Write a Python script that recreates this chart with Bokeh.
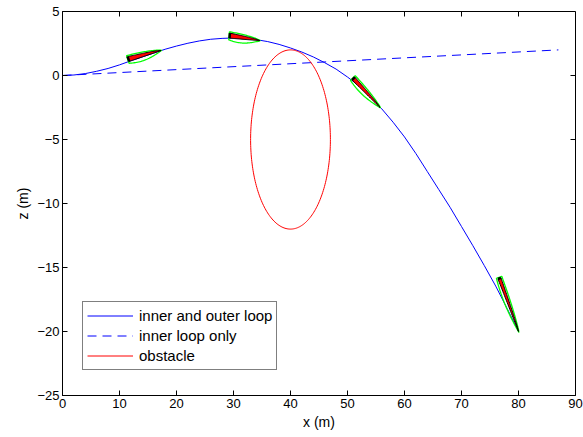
import numpy as np
from bokeh.plotting import figure
from bokeh.models import Range1d, FixedTicker, CustomJSTickFormatter
from bokeh.embed import file_html
from bokeh.resources import INLINE

# ---------------- data ----------------
x_ticks = [0, 10, 20, 30, 40, 50, 60, 70, 80, 90]
z_ticks = [-25, -20, -15, -10, -5, 0, 5]

# inner and outer loop trajectory
curve_x = [0, 2, 4, 6, 8, 10, 12, 14, 16, 18, 20, 22, 24, 26, 28, 30, 32, 34, 36, 38, 40,
           42, 44, 46, 48, 50, 52, 54, 56, 58, 60, 62, 64, 66, 68, 70, 72, 74, 76, 78, 80]
curve_z = [0, 0.04, 0.15, 0.33, 0.55, 0.83, 1.15, 1.45, 1.75, 2.05, 2.3, 2.52, 2.7, 2.83, 2.9, 2.93,
           2.9, 2.8, 2.65, 2.43, 2.15, 1.83, 1.45, 1.0, 0.5, -0.12, -0.8, -1.65, -2.6, -3.65, -4.8,
           -6.1, -7.5, -8.9, -10.3, -11.8, -13.3, -14.85, -16.45, -18.2, -20.0]

# inner loop only trajectory
inner_x = [0, 87]
inner_z = [0, 2.0]

# obstacle (circle)
obstacle_cx = 40.0
obstacle_cz = -5.0
obstacle_r = 7.0

# aircraft snapshots: tail and nose positions
plane_tail_x = [11.7, 29.3, 50.8, 76.4]
plane_tail_z = [1.1, 2.92, -0.35, -15.9]
plane_nose_x = [17.3, 34.6, 55.7, 80.0]
plane_nose_z = [1.95, 2.72, -2.5, -20.0]
plane_thick = [5.0, 5.0, 4.0, 3.2]

# ---------------- figure ----------------
FW, FH = 513, 384
XR, ZR = (0, 90), (-25, 5)
FONT = "Liberation Sans"

p = figure(frame_width=FW, frame_height=FH,
           x_range=Range1d(*XR), y_range=Range1d(*ZR),
           output_backend="svg", toolbar_location=None,
           min_border_left=62, min_border_right=8, min_border_top=11, min_border_bottom=34)
p.xgrid.visible = False
p.ygrid.visible = False
p.outline_line_color = "black"
p.outline_line_width = 1
p.background_fill_color = "white"
p.border_fill_color = "white"

minus_fmt = "return tick.toString().replace('-', '\u2212');"

for ax, ticks in ((p.xaxis[0], x_ticks), (p.yaxis[0], z_ticks)):
    ax.ticker = FixedTicker(ticks=ticks)
    ax.formatter = CustomJSTickFormatter(code=minus_fmt)
    ax.major_tick_in = 5
    ax.major_tick_out = 0
    ax.minor_tick_line_color = None
    ax.axis_line_color = "black"
    ax.major_tick_line_color = "black"
    ax.major_label_text_font = FONT
    ax.major_label_text_font_size = "13px"
    ax.major_label_text_color = "black"
    ax.major_label_standoff = 3
    ax.axis_label_text_font = FONT
    ax.axis_label_text_font_size = "14px"
    ax.axis_label_text_font_style = "normal"
    ax.axis_label_text_color = "black"
    ax.axis_label_standoff = 3

p.xaxis[0].axis_label = "x (m)"
p.yaxis[0].axis_label = "z (m)"

sx = FW / (XR[1] - XR[0])
sz = FH / (ZR[1] - ZR[0])
tick_len = 5

# inward ticks on the top and right edges of the box
p.segment(x0=x_ticks, y0=[ZR[1]] * len(x_ticks), x1=x_ticks,
          y1=[ZR[1] - tick_len / sz] * len(x_ticks), line_color="black", line_width=1)
p.segment(x0=[XR[1]] * len(z_ticks), y0=z_ticks, x1=[XR[1] - tick_len / sx] * len(z_ticks),
          y1=z_ticks, line_color="black", line_width=1)

# ---------------- lines ----------------
p.line(curve_x, curve_z, line_color="#0000ff", line_width=1, legend_label="inner and outer loop")
p.line(inner_x, inner_z, line_color="#0000ff", line_width=1, line_dash="9 6",
       legend_label="inner loop only")

th = np.linspace(0, 2 * np.pi, 240)
p.line(obstacle_cx + obstacle_r * np.cos(th), obstacle_cz + obstacle_r * np.sin(th),
       line_color="#ff0000", line_width=1, legend_label="obstacle")

# ---------------- aircraft shapes ----------------
green_xs, green_zs, red_xs, red_zs, tail_xs, tail_zs = [], [], [], [], [], []
for xt, zt, xn, zn, h in zip(plane_tail_x, plane_tail_z, plane_nose_x, plane_nose_z, plane_thick):
    d = np.array([(xn - xt) * sx, (zn - zt) * sz])
    L = np.hypot(*d)
    e = d / L
    n = np.array([-e[1], e[0]])
    u = np.linspace(0, 1, 30)

    def to_data(uu, vv):
        px = uu[:, None] * d[None, :] + vv[:, None] * n[None, :]
        return list(xt + px[:, 0] / sx), list(zt + px[:, 1] / sz)

    # red wedge
    top_v = h * (1 - u) ** 0.7
    uu = np.concatenate([u, u[::-1]])
    vv = np.concatenate([top_v, np.zeros_like(u)])
    rx, rz = to_data(uu, vv)
    red_xs.append(rx); red_zs.append(rz)

    # green lens outline
    gtop = (h + 1.3) * (1 - u) ** 0.7 + 0.5 * np.sin(np.pi * u)
    gbot = -(0.6 * h + 0.8) * np.sin(np.pi * (0.15 + 0.85 * u))
    uu = np.concatenate([u * 1.04 - 0.02, (u * 1.04 - 0.02)[::-1]])
    vv = np.concatenate([gtop, gbot[::-1]])
    gx, gz = to_data(uu, vv)
    green_xs.append(gx); green_zs.append(gz)

    # thick tail edge
    tx, tz = to_data(np.array([0.0, 0.0]), np.array([0.0, h]))
    tail_xs.append(tx); tail_zs.append(tz)

p.patches(green_xs, green_zs, fill_color=None, line_color="#00ff00", line_width=1.3)
p.patches(red_xs, red_zs, fill_color="#ff0000", line_color="black", line_width=1.0)
p.multi_line(tail_xs, tail_zs, line_color="black", line_width=2.5)

# ---------------- legend ----------------
lg = p.legend[0]
lg.location = (20, 25)
lg.border_line_color = "black"
lg.border_line_width = 1
lg.background_fill_color = "white"
lg.background_fill_alpha = 1
lg.padding = 4
lg.margin = 0
lg.spacing = 1
lg.glyph_width = 46
lg.glyph_height = 19
lg.label_height = 19
lg.label_standoff = 6
lg.label_text_font = FONT
lg.label_text_font_size = "15px"
lg.label_text_color = "black"

open("out.html", "w").write(file_html(p, INLINE))
